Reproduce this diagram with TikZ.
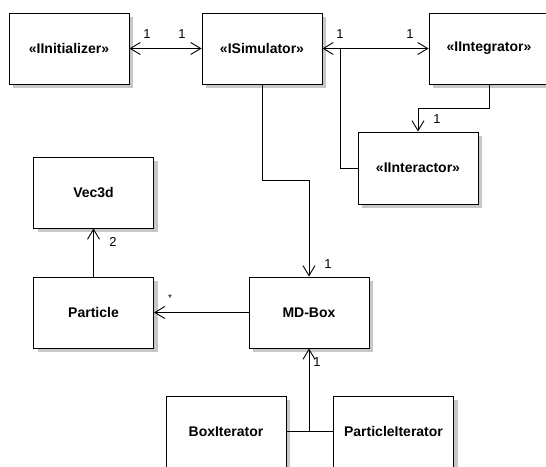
\documentclass[tikz,border=0pt]{standalone}
\usepackage{fontspec}
\setmainfont{Liberation Sans}
\usetikzlibrary{arrows.meta,shadows}
\begin{document}
\begin{tikzpicture}[x=1pt,y=-1pt,
  classbox/.style={draw=black, line width=0.9pt, fill=white, inner sep=0pt,
    minimum width=120pt, minimum height=71pt,
    font=\fontsize{14}{16}\selectfont\bfseries,
    drop shadow={shadow xshift=4pt, shadow yshift=-4pt, fill=black!22, opacity=1}},
  link/.style={line width=0.9pt, black},
  nav/.style={link, -{Straight Barb[length=10pt,width=12pt,line width=0.9pt]}},
  bothnav/.style={link, {Straight Barb[length=10pt,width=12pt,line width=0.9pt]}-{Straight Barb[length=10pt,width=12pt,line width=0.9pt]}},
  mult/.style={font=\fontsize{13}{15}\selectfont, inner sep=0pt}]
  \useasboundingbox (0,0) rectangle (546,466);
  \begin{scope}
  \clip (0,0) rectangle (546,466);

  % classes and interfaces
  \node[classbox] (init)   at (69,48.5)    {«IInitializer»};
  \node[classbox] (sim)    at (262,48.5)   {«ISimulator»};
  \node[classbox] (integ)  at (489,48.5)   {«IIntegrator»};
  \node[classbox, minimum height=72pt] (inter) at (418,168) {«IInteractor»};
  \node[classbox] (vec)    at (93.5,192.5) {Vec3d};
  \node[classbox] (part)   at (93.5,312.5) {Particle};
  \node[classbox] (md)     at (309,312.5)  {MD-Box};
  \node[classbox] (boxit)  at (226,431.5)  {BoxIterator};
  \node[classbox] (partit) at (393.5,431.5) {ParticleIterator};

  % associations
  \draw[bothnav] (init.east) -- (sim.west);
  \draw[bothnav] (sim.east) -- (integ.west);
  \coordinate (j1) at (340,48.5);
  \draw[link] (j1) |- (inter.west);
  \draw[nav] (integ.south) -- ++(0,24) -| (inter.north);
  \draw[nav] (sim.south) -- ++(0,96) -| (md.north);
  \draw[nav] (part.north) -- (vec.south);
  \draw[nav] (md.west) -- (part.east);
  \draw[link] (boxit.east) -- (partit.west);
  \coordinate (j2) at (md.south |- boxit.east);
  \draw[nav] (j2) -- (md.south);

  % multiplicities
  \node[mult] (m1) at (147,34)  {1};
  \node[mult] (m2) at (182,34)  {1};
  \node[mult] (m3) at (340,34)  {1};
  \node[mult] (m4) at (410,34)  {1};
  \node[mult] (m5) at (437,119) {1};
  \node[mult] (m6) at (328,264) {1};
  \node[mult] (m7) at (113,242) {2};
  \node[mult, font=\fontsize{10}{12}\selectfont] (m8) at (170,298) {*};
  \node[mult] (m9) at (317,362) {1};
  \end{scope}
\end{tikzpicture}
\end{document}
